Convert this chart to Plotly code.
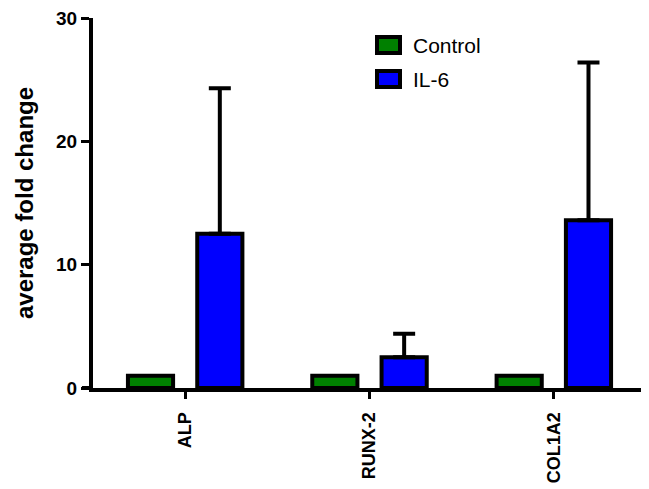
import plotly.graph_objects as go

categories = ["ALP", "RUNX-2", "COL1A2"]
series_names = ["Control", "IL-6"]
control_values = [1.0, 1.0, 1.0]
il6_values = [12.5, 2.5, 13.6]
il6_errors = [11.8, 1.9, 12.8]
colors = ["#008000", "#0000FF"]

# page body has an 8px default margin; compensate so the plot lands where the reference has it
OFF = 8
W, H = 649 - OFF, 489 - OFF
ML, MR, MT, MB = 93 - OFF, 3, 18 - OFF, 101
FONT = "Liberation Sans, Arial, sans-serif"

fig = go.Figure()
bar_w = 0.245
fig.add_trace(go.Bar(
    x=categories, y=control_values, name=series_names[0],
    width=bar_w, offset=-0.188 - bar_w / 2,
    marker=dict(color=colors[0], line=dict(color="black", width=4)),
    showlegend=False, cliponaxis=False,
))
fig.add_trace(go.Bar(
    x=categories, y=il6_values, name=series_names[1],
    width=bar_w, offset=0.188 - bar_w / 2,
    marker=dict(color=colors[1], line=dict(color="black", width=4)),
    error_y=dict(type="data", symmetric=False, array=il6_errors,
                 arrayminus=[0] * len(il6_errors),
                 color="black", thickness=4, width=11),
    showlegend=False, cliponaxis=False,
))

# x-axis overhang to the left of the y-axis
shapes = [dict(type="line", xref="x domain", yref="y", x0=-0.02, x1=0, y0=0, y1=0,
               line=dict(color="black", width=4))]
annotations = []

pw = W - ML - MR
ph = H - MT - MB
def px_to_paper_x(px):
    return (px - OFF - ML) / pw
def px_to_paper_y(py):
    return 1 - (py - OFF - MT) / ph

leg_x0, leg_x1 = 375, 402
leg_centers = [45, 79]
for name, col, cy in zip(series_names, colors, leg_centers):
    shapes.append(dict(type="rect", xref="paper", yref="paper",
                       x0=px_to_paper_x(leg_x0 + 2), x1=px_to_paper_x(leg_x1 - 2),
                       y0=px_to_paper_y(cy + 8), y1=px_to_paper_y(cy - 8),
                       fillcolor=col, line=dict(color="black", width=4)))
    annotations.append(dict(xref="paper", yref="paper", x=px_to_paper_x(411),
                            y=px_to_paper_y(cy), text=name, showarrow=False,
                            xanchor="left", yanchor="middle",
                            font=dict(family=FONT, size=21, color="black")))

fig.update_layout(
    width=W, height=H,
    margin=dict(l=ML, r=MR, t=MT, b=MB, autoexpand=False),
    paper_bgcolor="white", plot_bgcolor="white",
    barmode="overlay",
    shapes=shapes, annotations=annotations,
    font=dict(family=FONT, color="black"),
    xaxis=dict(range=[-0.5, 2.5], showline=True, linewidth=4, linecolor="black",
               ticks="outside", ticklen=7, tickwidth=3, tickcolor="black",
               tickangle=-90, showgrid=False, zeroline=False, ticklabelstandoff=6,
               ticklabeloverflow="allow",
               tickfont=dict(family=FONT, size=18, color="black", weight="bold")),
    yaxis=dict(range=[0, 30], tickvals=[0, 10, 20, 30], showline=True, linewidth=4,
               linecolor="black", ticks="outside", ticklen=8, tickwidth=3,
               tickcolor="black", showgrid=False, zeroline=False,
               ticklabeloverflow="allow",
               tickfont=dict(family=FONT, size=19, color="black", weight="bold"),
               title=dict(text="average fold change", standoff=17,
                          font=dict(family=FONT, size=24, color="black", weight="bold"))),
)

fig.write_html("out.html")
